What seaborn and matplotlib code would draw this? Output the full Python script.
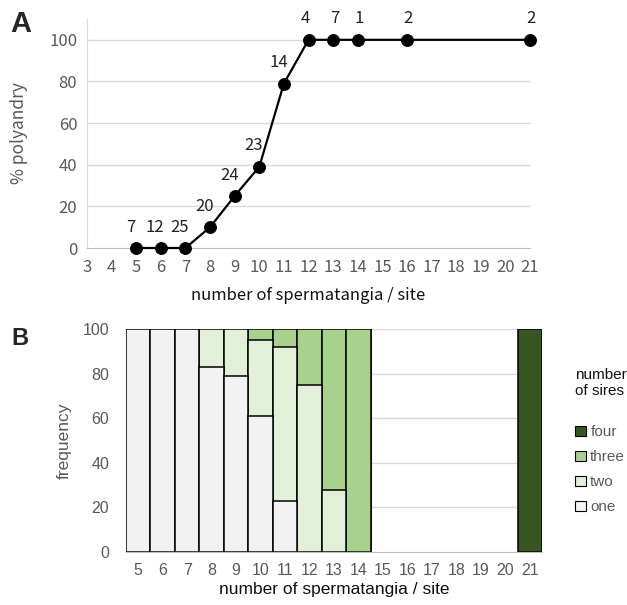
import matplotlib
matplotlib.use("Agg")
import matplotlib.pyplot as plt
import seaborn as sns
import pandas as pd
from matplotlib.patches import Patch

# ---------------- data ----------------
spermatangia_a = [5, 6, 7, 8, 9, 10, 11, 12, 13, 14, 16, 21]
polyandry_pct = [0, 0, 0, 10, 25, 39, 79, 100, 100, 100, 100, 100]
sample_n = [7, 12, 25, 20, 24, 23, 14, 4, 7, 1, 2, 2]
xticks_a = list(range(3, 22))
yticks_a = [0, 20, 40, 60, 80, 100]

categories_b = list(range(5, 22))
sites_b = [5, 6, 7, 8, 9, 10, 11, 12, 13, 14, 21]
sires_one = [100, 100, 100, 83, 79, 61, 23, 0, 0, 0, 0]
sires_two = [0, 0, 0, 17, 21, 34, 69, 75, 28, 0, 0]
sires_three = [0, 0, 0, 0, 0, 5, 8, 25, 72, 100, 0]
sires_four = [0, 0, 0, 0, 0, 0, 0, 0, 0, 0, 100]
sire_levels = ["four", "three", "two", "one"]
yticks_b = [0, 20, 40, 60, 80, 100]

colors_b = {"one": "#f2f2f2", "two": "#e2efd9", "three": "#a9d18e", "four": "#375623"}
grey_txt = "#595959"
grid_c = "#d9d9d9"

sns.set_style("white")
fontA = ["Noto Sans CJK JP", "DejaVu Sans"]
fontB = ["Liberation Sans", "DejaVu Sans"]

fig = plt.figure(figsize=(6.27, 6.05), dpi=100)

# ---------------- panel A ----------------
axA = fig.add_axes([87 / 627, 1 - 248 / 605, (530 - 87) / 627, (248 - 19) / 605])
dfA = pd.DataFrame({"x": spermatangia_a, "y": polyandry_pct, "n": sample_n})
axA.set_xlim(3, 21)
axA.set_ylim(0, 110)
for yv in yticks_a[1:]:
    axA.axhline(yv, color=grid_c, lw=1.0, zorder=0)
sns.lineplot(data=dfA, x="x", y="y", ax=axA, color="black", marker="o",
             markersize=8.5, linewidth=1.6, markeredgecolor="black", zorder=3)
for ln in axA.lines:
    ln.set_clip_on(False)
for xv, yv, nv in zip(spermatangia_a, polyandry_pct, sample_n):
    dx = -4 if xv <= 11 else (-2 if xv == 12 else 1)
    axA.annotate(str(nv), (xv, yv), xytext=(dx, 15), textcoords="offset points",
                 ha="center", va="center", fontsize=12, color="#222222", family=fontA)
axA.set_xticks(xticks_a)
axA.set_yticks(yticks_a)
axA.tick_params(axis="x", length=4, color="#bfbfbf", labelsize=12, labelcolor=grey_txt, pad=4)
axA.tick_params(axis="y", length=0, labelsize=12, labelcolor=grey_txt, pad=7)
for lab in axA.get_xticklabels() + axA.get_yticklabels():
    lab.set_family(fontA)
for s in ["top", "right"]:
    axA.spines[s].set_visible(False)
axA.spines["left"].set_color("#d9d9d9")
axA.spines["bottom"].set_color("#bfbfbf")
axA.set_xlabel("number of spermatangia / site", fontsize=12, family=fontA, color="#111111", labelpad=8)
axA.set_ylabel("% polyandry", fontsize=12.5, family=fontA, color=grey_txt, labelpad=15)

# ---------------- panel B ----------------
axB = fig.add_axes([126 / 627, 1 - 552 / 605, (542 - 126) / 627, (552 - 329) / 605])
dfB = pd.DataFrame({"site": sites_b, "one": sires_one, "two": sires_two,
                    "three": sires_three, "four": sires_four})
for yv in yticks_b[1:]:
    axB.axhline(yv, color=grid_c, lw=1.0, zorder=0)
for i, lvl in enumerate(sire_levels):
    parts = sire_levels[i:]
    dfB["cum_" + lvl] = dfB[parts].sum(axis=1)
for lvl in sire_levels:
    sub = dfB[dfB["cum_" + lvl] > 0]
    sns.barplot(data=sub, x="site", y="cum_" + lvl, order=categories_b, ax=axB,
                color=colors_b[lvl], saturation=1, width=1.0,
                edgecolor="black", linewidth=1.1, zorder=2)
axB.set_ylim(0, 100)
axB.set_xlim(-0.5, len(categories_b) - 0.5)
axB.set_yticks(yticks_b)
axB.tick_params(axis="both", length=0, labelsize=11.5, labelcolor=grey_txt)
axB.tick_params(axis="x", pad=8)
axB.tick_params(axis="y", pad=12)
for lab in axB.get_xticklabels() + axB.get_yticklabels():
    lab.set_family(fontB)
for s in ["top", "right", "left"]:
    axB.spines[s].set_visible(False)
axB.spines["bottom"].set_color("#bfbfbf")
axB.set_xlabel("number of spermatangia / site", fontsize=12.5, family=fontB, color="#111111", labelpad=3)
axB.set_ylabel("frequency", fontsize=12.5, family=fontB, color=grey_txt, labelpad=8)

handles = [Patch(facecolor=colors_b[l], edgecolor="black", linewidth=0.8) for l in sire_levels]
leg = fig.legend(handles, sire_levels, loc="upper left", bbox_to_anchor=(575 / 627, 1 - 368 / 605),
                 frameon=False, title="number\nof sires\n", alignment="left",
                 handlelength=0.7, handleheight=0.7, handletextpad=0.3, labelspacing=0.72,
                 borderpad=0, borderaxespad=0,
                 prop={"family": fontB, "size": 11})
leg.get_title().set_fontsize(11)
leg.get_title().set_family(fontB)
leg.get_title().set_color("#111111")
for t in leg.get_texts():
    t.set_color(grey_txt)

fig.text(10 / 627, 1 - 10 / 605, "A", fontsize=21, fontweight="bold", va="top", ha="left", family=fontB)
fig.text(11 / 627, 1 - 327 / 605, "B", fontsize=17, fontweight="bold", va="top", ha="left", family=fontB)

fig.savefig("out.png", dpi=100)
